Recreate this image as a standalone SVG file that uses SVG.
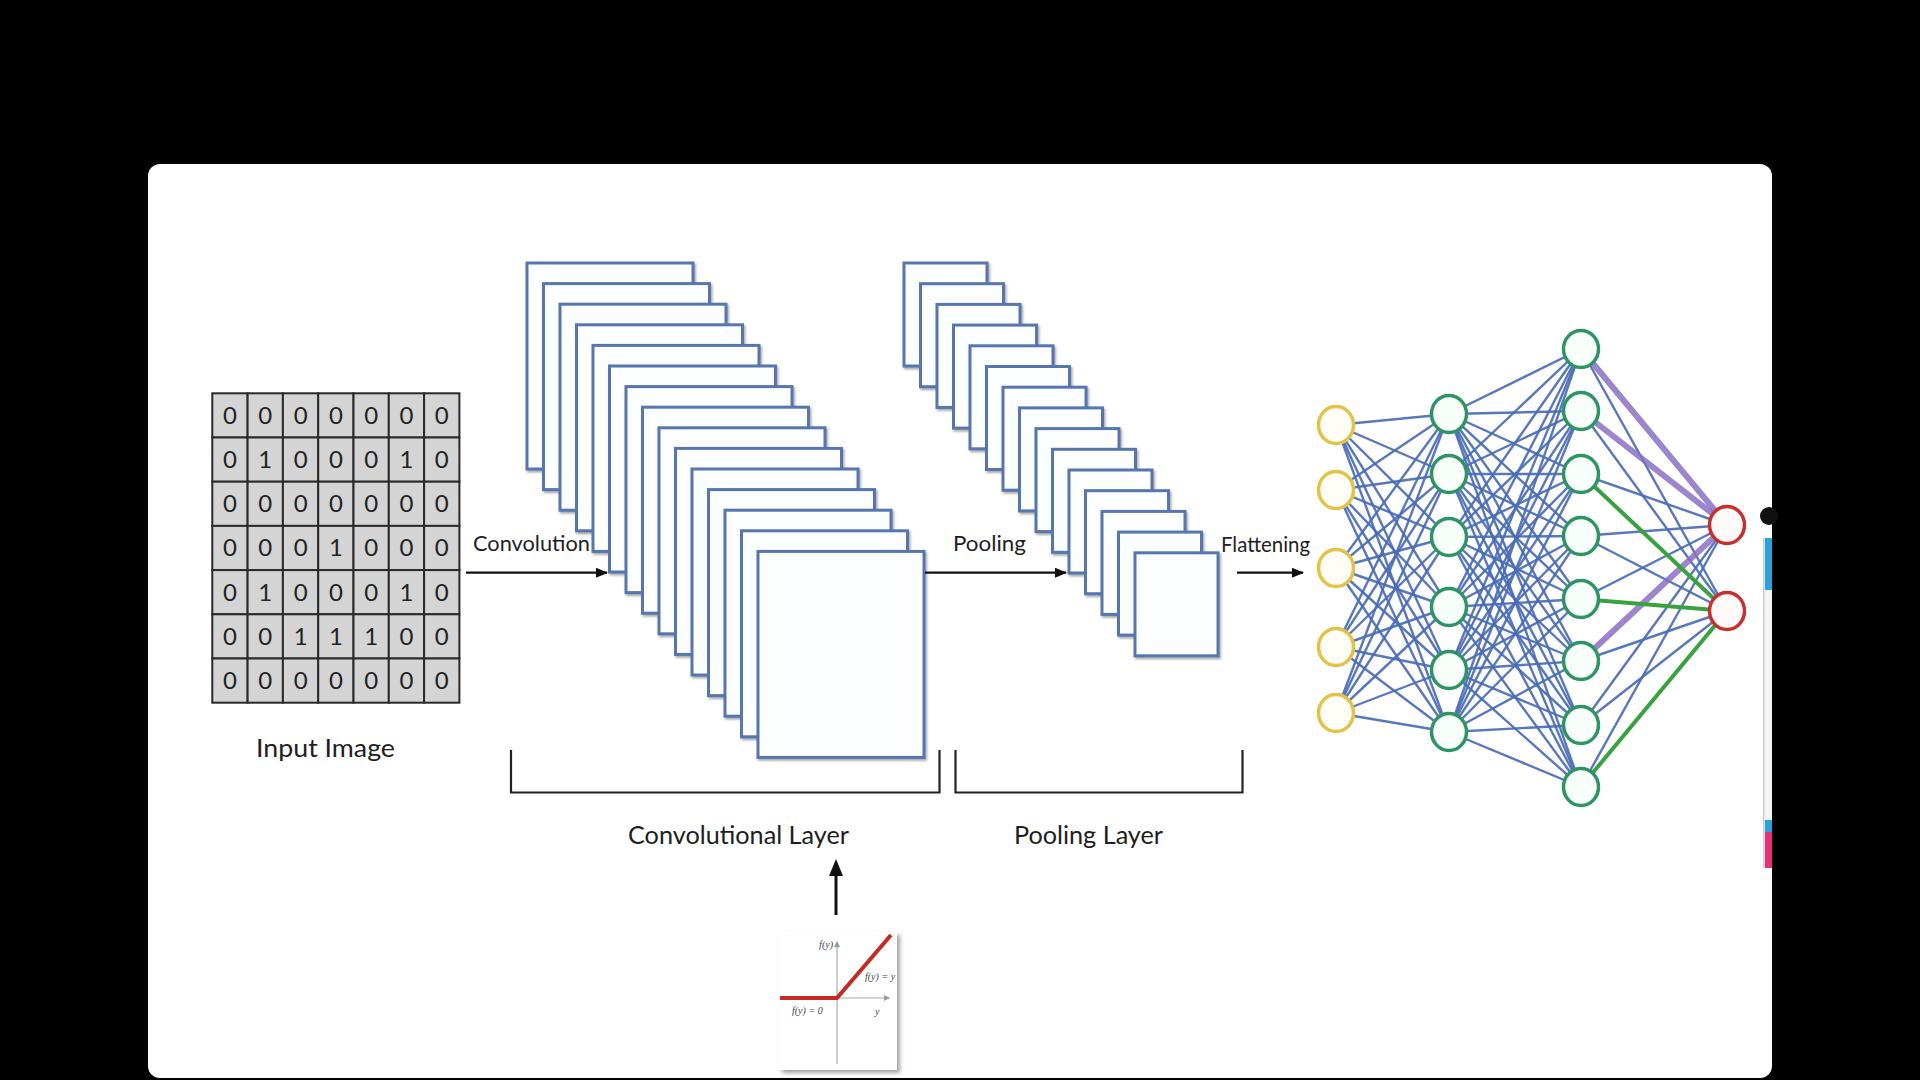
<svg xmlns="http://www.w3.org/2000/svg" width="1920" height="1080" viewBox="0 0 1920 1080">
<defs>
<style>
.lbl{font-family:Lato,"Open Sans","Liberation Sans",sans-serif;fill:#1e1e1e}
.dig{font-family:Lato,"Open Sans","Liberation Sans",sans-serif;font-size:24px;fill:#222;text-anchor:middle}
.cell{fill:#d4d4d4;stroke:#2a2a2a;stroke-width:2}
.fm{fill:#fdfeff;stroke:#5676ad;stroke-width:3;filter:url(#sh)}
.arr{stroke:#111;stroke-width:2.2;fill:none;marker-end:url(#ah)}
.br{stroke:#222;stroke-width:2.2;fill:none}
.e{stroke:#4a6db5;stroke-width:2.4;stroke-opacity:0.92}
.ep{stroke:#8a70c4;stroke-width:6;stroke-opacity:0.85}
.eg{stroke:#39a23f;stroke-width:4}
.ny{fill:#fffef6;stroke:#e3c24a;stroke-width:3.5}
.ng{fill:#f8fffb;stroke:#2f9463;stroke-width:3.5}
.nr{fill:#fffafa;stroke:#c8302c;stroke-width:3.5}
.rl{font-family:"Liberation Serif",serif;font-style:italic;font-size:10px;fill:#444}
</style>
<filter id="sh" x="-5%" y="-5%" width="115%" height="115%">
<feDropShadow dx="1.5" dy="2" stdDeviation="1" flood-color="#555" flood-opacity="0.5"/>
</filter>
<filter id="sh2" x="-10%" y="-10%" width="130%" height="130%">
<feDropShadow dx="3" dy="3" stdDeviation="2" flood-color="#666" flood-opacity="0.6"/>
</filter>
<marker id="ah" markerWidth="12" markerHeight="10" refX="11" refY="5" orient="auto" markerUnits="userSpaceOnUse">
<path d="M0,0 L12,5 L0,10 Z" fill="#111"/>
</marker>
<marker id="ahs" markerWidth="6" markerHeight="6" refX="5" refY="3" orient="auto" markerUnits="userSpaceOnUse">
<path d="M0,0 L6,3 L0,6 Z" fill="#999"/>
</marker>
</defs>

<rect x="0" y="0" width="1920" height="1080" fill="#000"/>
<rect x="148" y="164" width="1624" height="914" rx="12" fill="#fff"/>

<!-- Input image grid -->
<g id="input-image">
<g>
<rect class="cell" x="212.3" y="393.3" width="35.3" height="44.2"/><rect class="cell" x="247.6" y="393.3" width="35.3" height="44.2"/><rect class="cell" x="282.9" y="393.3" width="35.3" height="44.2"/><rect class="cell" x="318.2" y="393.3" width="35.3" height="44.2"/><rect class="cell" x="353.5" y="393.3" width="35.3" height="44.2"/><rect class="cell" x="388.8" y="393.3" width="35.3" height="44.2"/><rect class="cell" x="424.1" y="393.3" width="35.3" height="44.2"/>
<rect class="cell" x="212.3" y="437.5" width="35.3" height="44.2"/><rect class="cell" x="247.6" y="437.5" width="35.3" height="44.2"/><rect class="cell" x="282.9" y="437.5" width="35.3" height="44.2"/><rect class="cell" x="318.2" y="437.5" width="35.3" height="44.2"/><rect class="cell" x="353.5" y="437.5" width="35.3" height="44.2"/><rect class="cell" x="388.8" y="437.5" width="35.3" height="44.2"/><rect class="cell" x="424.1" y="437.5" width="35.3" height="44.2"/>
<rect class="cell" x="212.3" y="481.7" width="35.3" height="44.2"/><rect class="cell" x="247.6" y="481.7" width="35.3" height="44.2"/><rect class="cell" x="282.9" y="481.7" width="35.3" height="44.2"/><rect class="cell" x="318.2" y="481.7" width="35.3" height="44.2"/><rect class="cell" x="353.5" y="481.7" width="35.3" height="44.2"/><rect class="cell" x="388.8" y="481.7" width="35.3" height="44.2"/><rect class="cell" x="424.1" y="481.7" width="35.3" height="44.2"/>
<rect class="cell" x="212.3" y="525.9" width="35.3" height="44.2"/><rect class="cell" x="247.6" y="525.9" width="35.3" height="44.2"/><rect class="cell" x="282.9" y="525.9" width="35.3" height="44.2"/><rect class="cell" x="318.2" y="525.9" width="35.3" height="44.2"/><rect class="cell" x="353.5" y="525.9" width="35.3" height="44.2"/><rect class="cell" x="388.8" y="525.9" width="35.3" height="44.2"/><rect class="cell" x="424.1" y="525.9" width="35.3" height="44.2"/>
<rect class="cell" x="212.3" y="570.1" width="35.3" height="44.2"/><rect class="cell" x="247.6" y="570.1" width="35.3" height="44.2"/><rect class="cell" x="282.9" y="570.1" width="35.3" height="44.2"/><rect class="cell" x="318.2" y="570.1" width="35.3" height="44.2"/><rect class="cell" x="353.5" y="570.1" width="35.3" height="44.2"/><rect class="cell" x="388.8" y="570.1" width="35.3" height="44.2"/><rect class="cell" x="424.1" y="570.1" width="35.3" height="44.2"/>
<rect class="cell" x="212.3" y="614.3" width="35.3" height="44.2"/><rect class="cell" x="247.6" y="614.3" width="35.3" height="44.2"/><rect class="cell" x="282.9" y="614.3" width="35.3" height="44.2"/><rect class="cell" x="318.2" y="614.3" width="35.3" height="44.2"/><rect class="cell" x="353.5" y="614.3" width="35.3" height="44.2"/><rect class="cell" x="388.8" y="614.3" width="35.3" height="44.2"/><rect class="cell" x="424.1" y="614.3" width="35.3" height="44.2"/>
<rect class="cell" x="212.3" y="658.5" width="35.3" height="44.2"/><rect class="cell" x="247.6" y="658.5" width="35.3" height="44.2"/><rect class="cell" x="282.9" y="658.5" width="35.3" height="44.2"/><rect class="cell" x="318.2" y="658.5" width="35.3" height="44.2"/><rect class="cell" x="353.5" y="658.5" width="35.3" height="44.2"/><rect class="cell" x="388.8" y="658.5" width="35.3" height="44.2"/><rect class="cell" x="424.1" y="658.5" width="35.3" height="44.2"/>
</g>
<g class="dig">
<text x="230" y="424">0</text><text x="265.3" y="424">0</text><text x="300.6" y="424">0</text><text x="335.9" y="424">0</text><text x="371.2" y="424">0</text><text x="406.5" y="424">0</text><text x="441.8" y="424">0</text>
<text x="230" y="468">0</text><text x="265.3" y="468">1</text><text x="300.6" y="468">0</text><text x="335.9" y="468">0</text><text x="371.2" y="468">0</text><text x="406.5" y="468">1</text><text x="441.8" y="468">0</text>
<text x="230" y="512">0</text><text x="265.3" y="512">0</text><text x="300.6" y="512">0</text><text x="335.9" y="512">0</text><text x="371.2" y="512">0</text><text x="406.5" y="512">0</text><text x="441.8" y="512">0</text>
<text x="230" y="556">0</text><text x="265.3" y="556">0</text><text x="300.6" y="556">0</text><text x="335.9" y="556">1</text><text x="371.2" y="556">0</text><text x="406.5" y="556">0</text><text x="441.8" y="556">0</text>
<text x="230" y="601">0</text><text x="265.3" y="601">1</text><text x="300.6" y="601">0</text><text x="335.9" y="601">0</text><text x="371.2" y="601">0</text><text x="406.5" y="601">1</text><text x="441.8" y="601">0</text>
<text x="230" y="645">0</text><text x="265.3" y="645">0</text><text x="300.6" y="645">1</text><text x="335.9" y="645">1</text><text x="371.2" y="645">1</text><text x="406.5" y="645">0</text><text x="441.8" y="645">0</text>
<text x="230" y="689">0</text><text x="265.3" y="689">0</text><text x="300.6" y="689">0</text><text x="335.9" y="689">0</text><text x="371.2" y="689">0</text><text x="406.5" y="689">0</text><text x="441.8" y="689">0</text>
</g>
<text class="lbl" x="325.5" y="757" font-size="25" text-anchor="middle" textLength="139" lengthAdjust="spacingAndGlyphs">Input Image</text>
</g>

<!-- Convolutional feature maps -->
<g id="conv-stack">
<rect class="fm" x="527" y="263" width="166" height="206"/>
<rect class="fm" x="543.5" y="283.6" width="166" height="206"/>
<rect class="fm" x="560" y="304.2" width="166" height="206"/>
<rect class="fm" x="576.5" y="324.8" width="166" height="206"/>
<rect class="fm" x="593" y="345.4" width="166" height="206"/>
<rect class="fm" x="609.5" y="366" width="166" height="206"/>
<rect class="fm" x="626" y="386.6" width="166" height="206"/>
<rect class="fm" x="642.5" y="407.2" width="166" height="206"/>
<rect class="fm" x="659" y="427.8" width="166" height="206"/>
<rect class="fm" x="675.5" y="448.4" width="166" height="206"/>
<rect class="fm" x="692" y="469" width="166" height="206"/>
<rect class="fm" x="708.5" y="489.6" width="166" height="206"/>
<rect class="fm" x="725" y="510.2" width="166" height="206"/>
<rect class="fm" x="741.5" y="530.8" width="166" height="206"/>
<rect class="fm" x="758" y="551.4" width="166" height="206"/>
</g>

<!-- Pooled feature maps -->
<g id="pool-stack">
<rect class="fm" x="904" y="263" width="83" height="103"/>
<rect class="fm" x="920.5" y="283.7" width="83" height="103"/>
<rect class="fm" x="937" y="304.4" width="83" height="103"/>
<rect class="fm" x="953.5" y="325.1" width="83" height="103"/>
<rect class="fm" x="970" y="345.8" width="83" height="103"/>
<rect class="fm" x="986.5" y="366.5" width="83" height="103"/>
<rect class="fm" x="1003" y="387.2" width="83" height="103"/>
<rect class="fm" x="1019.5" y="407.9" width="83" height="103"/>
<rect class="fm" x="1036" y="428.6" width="83" height="103"/>
<rect class="fm" x="1052.5" y="449.3" width="83" height="103"/>
<rect class="fm" x="1069" y="470" width="83" height="103"/>
<rect class="fm" x="1085.5" y="490.7" width="83" height="103"/>
<rect class="fm" x="1102" y="511.4" width="83" height="103"/>
<rect class="fm" x="1118.5" y="532.1" width="83" height="103"/>
<rect class="fm" x="1135" y="552.8" width="83" height="103"/>
</g>

<!-- Step arrows and labels -->
<g id="steps">
<path class="arr" d="M466,572.7 H607"/>
<text class="lbl" x="473" y="551" font-size="21" textLength="117" lengthAdjust="spacingAndGlyphs">Convolution</text>
<path class="arr" d="M925,572.7 H1066"/>
<text class="lbl" x="953" y="551" font-size="21" textLength="73" lengthAdjust="spacingAndGlyphs">Pooling</text>
<path class="arr" d="M1237,572.7 H1303"/>
<text class="lbl" x="1221" y="552" font-size="21" textLength="89" lengthAdjust="spacingAndGlyphs">Flattening</text>
</g>

<!-- Brackets -->
<g id="conv-layer-bracket">
<path class="br" d="M511,750 V792.5 H939.5 V750"/>
<text class="lbl" x="738.5" y="844" font-size="25" text-anchor="middle" textLength="221" lengthAdjust="spacingAndGlyphs">Convolutional Layer</text>
</g>
<g id="pool-layer-bracket">
<path class="br" d="M955.5,750 V792.5 H1242.5 V750"/>
<text class="lbl" x="1088.5" y="844" font-size="25" text-anchor="middle" textLength="149" lengthAdjust="spacingAndGlyphs">Pooling Layer</text>
</g>

<!-- ReLU -->
<g id="relu">
<path d="M836,915 V872" stroke="#111" stroke-width="3" fill="none"/>
<path d="M836,859 L843,876 L829,876 Z" fill="#111"/>
<rect x="779" y="932" width="118" height="138" fill="#fff" filter="url(#sh2)"/>
<path d="M837,1064 V942" stroke="#aaa" stroke-width="1.2" fill="none" marker-end="url(#ahs)"/>
<path d="M790,998 H889" stroke="#aaa" stroke-width="1.2" fill="none" marker-end="url(#ahs)"/>
<polyline points="780,998 837,998 891,935" fill="none" stroke="#c42b22" stroke-width="4"/>
<text class="rl" x="833" y="948" text-anchor="end">f(y)</text>
<text class="rl" x="865" y="980">f(y) = y</text>
<text class="rl" x="792" y="1014">f(y) = 0</text>
<text class="rl" x="875" y="1015">y</text>
</g>

<!-- Fully connected network connectors -->
<g id="connectors">
<g class="e">
<line x1="1336" y1="425" x2="1449" y2="414"/><line x1="1336" y1="425" x2="1449" y2="474"/><line x1="1336" y1="425" x2="1449" y2="537"/><line x1="1336" y1="425" x2="1449" y2="607"/><line x1="1336" y1="425" x2="1449" y2="670"/><line x1="1336" y1="425" x2="1449" y2="732"/>
<line x1="1336" y1="490" x2="1449" y2="414"/><line x1="1336" y1="490" x2="1449" y2="474"/><line x1="1336" y1="490" x2="1449" y2="537"/><line x1="1336" y1="490" x2="1449" y2="607"/><line x1="1336" y1="490" x2="1449" y2="670"/><line x1="1336" y1="490" x2="1449" y2="732"/>
<line x1="1336" y1="568" x2="1449" y2="414"/><line x1="1336" y1="568" x2="1449" y2="474"/><line x1="1336" y1="568" x2="1449" y2="537"/><line x1="1336" y1="568" x2="1449" y2="607"/><line x1="1336" y1="568" x2="1449" y2="670"/><line x1="1336" y1="568" x2="1449" y2="732"/>
<line x1="1336" y1="647" x2="1449" y2="414"/><line x1="1336" y1="647" x2="1449" y2="474"/><line x1="1336" y1="647" x2="1449" y2="537"/><line x1="1336" y1="647" x2="1449" y2="607"/><line x1="1336" y1="647" x2="1449" y2="670"/><line x1="1336" y1="647" x2="1449" y2="732"/>
<line x1="1336" y1="713" x2="1449" y2="414"/><line x1="1336" y1="713" x2="1449" y2="474"/><line x1="1336" y1="713" x2="1449" y2="537"/><line x1="1336" y1="713" x2="1449" y2="607"/><line x1="1336" y1="713" x2="1449" y2="670"/><line x1="1336" y1="713" x2="1449" y2="732"/>

<line x1="1449" y1="414" x2="1581" y2="349"/><line x1="1449" y1="414" x2="1581" y2="411"/><line x1="1449" y1="414" x2="1581" y2="474"/><line x1="1449" y1="414" x2="1581" y2="536"/><line x1="1449" y1="414" x2="1581" y2="599"/><line x1="1449" y1="414" x2="1581" y2="661"/><line x1="1449" y1="414" x2="1581" y2="725"/><line x1="1449" y1="414" x2="1581" y2="787"/>
<line x1="1449" y1="474" x2="1581" y2="349"/><line x1="1449" y1="474" x2="1581" y2="411"/><line x1="1449" y1="474" x2="1581" y2="474"/><line x1="1449" y1="474" x2="1581" y2="536"/><line x1="1449" y1="474" x2="1581" y2="599"/><line x1="1449" y1="474" x2="1581" y2="661"/><line x1="1449" y1="474" x2="1581" y2="725"/><line x1="1449" y1="474" x2="1581" y2="787"/>
<line x1="1449" y1="537" x2="1581" y2="349"/><line x1="1449" y1="537" x2="1581" y2="411"/><line x1="1449" y1="537" x2="1581" y2="474"/><line x1="1449" y1="537" x2="1581" y2="536"/><line x1="1449" y1="537" x2="1581" y2="599"/><line x1="1449" y1="537" x2="1581" y2="661"/><line x1="1449" y1="537" x2="1581" y2="725"/><line x1="1449" y1="537" x2="1581" y2="787"/>
<line x1="1449" y1="607" x2="1581" y2="349"/><line x1="1449" y1="607" x2="1581" y2="411"/><line x1="1449" y1="607" x2="1581" y2="474"/><line x1="1449" y1="607" x2="1581" y2="536"/><line x1="1449" y1="607" x2="1581" y2="599"/><line x1="1449" y1="607" x2="1581" y2="661"/><line x1="1449" y1="607" x2="1581" y2="725"/><line x1="1449" y1="607" x2="1581" y2="787"/>
<line x1="1449" y1="670" x2="1581" y2="349"/><line x1="1449" y1="670" x2="1581" y2="411"/><line x1="1449" y1="670" x2="1581" y2="474"/><line x1="1449" y1="670" x2="1581" y2="536"/><line x1="1449" y1="670" x2="1581" y2="599"/><line x1="1449" y1="670" x2="1581" y2="661"/><line x1="1449" y1="670" x2="1581" y2="725"/><line x1="1449" y1="670" x2="1581" y2="787"/>
<line x1="1449" y1="732" x2="1581" y2="349"/><line x1="1449" y1="732" x2="1581" y2="411"/><line x1="1449" y1="732" x2="1581" y2="474"/><line x1="1449" y1="732" x2="1581" y2="536"/><line x1="1449" y1="732" x2="1581" y2="599"/><line x1="1449" y1="732" x2="1581" y2="661"/><line x1="1449" y1="732" x2="1581" y2="725"/><line x1="1449" y1="732" x2="1581" y2="787"/>

<line x1="1581" y1="349" x2="1727" y2="611"/>
<line x1="1581" y1="411" x2="1727" y2="611"/>
<line x1="1581" y1="474" x2="1727" y2="525"/>
<line x1="1581" y1="536" x2="1727" y2="525"/><line x1="1581" y1="536" x2="1727" y2="611"/>
<line x1="1581" y1="599" x2="1727" y2="525"/>
<line x1="1581" y1="661" x2="1727" y2="611"/>
<line x1="1581" y1="725" x2="1727" y2="525"/><line x1="1581" y1="725" x2="1727" y2="611"/>
<line x1="1581" y1="787" x2="1727" y2="525"/>
</g>
<g class="ep">
<line x1="1581" y1="349" x2="1727" y2="525"/>
<line x1="1581" y1="411" x2="1727" y2="525"/>
<line x1="1581" y1="661" x2="1727" y2="525"/>
</g>
<g class="eg">
<line x1="1581" y1="474" x2="1727" y2="611"/>
<line x1="1581" y1="599" x2="1727" y2="611"/>
<line x1="1581" y1="787" x2="1727" y2="611"/>
</g>
</g>

<!-- Network nodes -->
<g id="input-layer">
<g id="in-1"><ellipse class="ny" cx="1336" cy="425" rx="17.5" ry="18.5"/></g>
<g id="in-2"><ellipse class="ny" cx="1336" cy="490" rx="17.5" ry="18.5"/></g>
<g id="in-3"><ellipse class="ny" cx="1336" cy="568" rx="17.5" ry="18.5"/></g>
<g id="in-4"><ellipse class="ny" cx="1336" cy="647" rx="17.5" ry="18.5"/></g>
<g id="in-5"><ellipse class="ny" cx="1336" cy="713" rx="17.5" ry="18.5"/></g>
</g>
<g id="hidden-layer-1">
<g id="h1-1"><ellipse class="ng" cx="1449" cy="414" rx="17.5" ry="18.5"/></g>
<g id="h1-2"><ellipse class="ng" cx="1449" cy="474" rx="17.5" ry="18.5"/></g>
<g id="h1-3"><ellipse class="ng" cx="1449" cy="537" rx="17.5" ry="18.5"/></g>
<g id="h1-4"><ellipse class="ng" cx="1449" cy="607" rx="17.5" ry="18.5"/></g>
<g id="h1-5"><ellipse class="ng" cx="1449" cy="670" rx="17.5" ry="18.5"/></g>
<g id="h1-6"><ellipse class="ng" cx="1449" cy="732" rx="17.5" ry="18.5"/></g>
</g>
<g id="hidden-layer-2">
<g id="h2-1"><ellipse class="ng" cx="1581" cy="349" rx="17.5" ry="18.5"/></g>
<g id="h2-2"><ellipse class="ng" cx="1581" cy="411" rx="17.5" ry="18.5"/></g>
<g id="h2-3"><ellipse class="ng" cx="1581" cy="474" rx="17.5" ry="18.5"/></g>
<g id="h2-4"><ellipse class="ng" cx="1581" cy="536" rx="17.5" ry="18.5"/></g>
<g id="h2-5"><ellipse class="ng" cx="1581" cy="599" rx="17.5" ry="18.5"/></g>
<g id="h2-6"><ellipse class="ng" cx="1581" cy="661" rx="17.5" ry="18.5"/></g>
<g id="h2-7"><ellipse class="ng" cx="1581" cy="725" rx="17.5" ry="18.5"/></g>
<g id="h2-8"><ellipse class="ng" cx="1581" cy="787" rx="17.5" ry="18.5"/></g>
</g>
<g id="output-layer">
<g id="out-1"><ellipse class="nr" cx="1727" cy="525" rx="17.5" ry="18.5"/></g>
<g id="out-2"><ellipse class="nr" cx="1727" cy="611" rx="17.5" ry="18.5"/></g>
</g>

<!-- clipped UI strip at right edge -->
<g id="edge-strip">
<circle cx="1769" cy="516" r="9" fill="#111"/>
<rect x="1764" y="538" width="8" height="330" fill="#f4f4f4"/>
<rect x="1763" y="538" width="1.5" height="330" fill="#ccc"/>
<rect x="1765" y="538" width="7" height="52" fill="#2aa3dc"/>
<rect x="1765" y="820" width="7" height="12" fill="#2aa3dc"/>
<rect x="1765" y="832" width="7" height="36" fill="#e8307a"/>
</g>
</svg>
